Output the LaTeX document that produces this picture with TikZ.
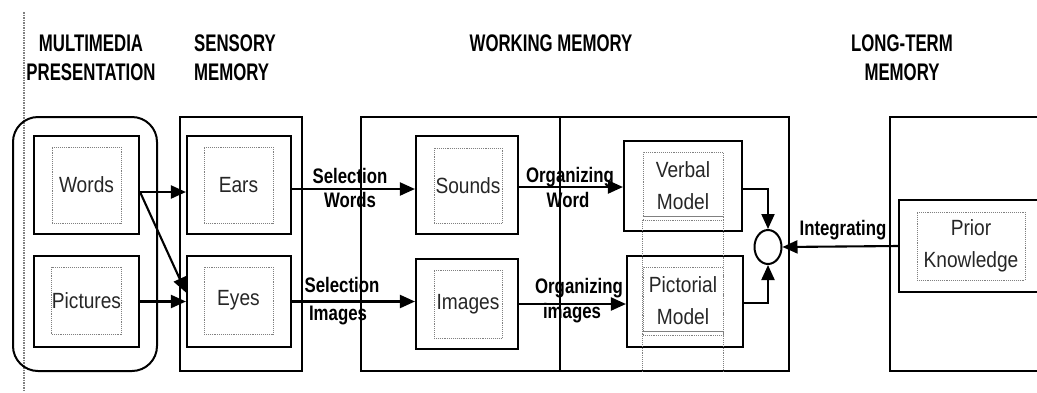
\documentclass[tikz,border=0pt]{standalone}
\usepackage{fontspec}
\setmainfont{Liberation Sans}
\newfontfamily\headfont{Liberation Sans}[FakeStretch=0.7]
\newfontfamily\selfont{Liberation Sans}[FakeStretch=0.8]
\newfontfamily\boxfont{Liberation Sans}[FakeStretch=0.87]
\usetikzlibrary{arrows.meta,shapes.geometric}

\begin{document}
\begin{tikzpicture}[x=1pt,y=-1pt,
	stage/.style={draw, line width=2pt, inner sep=0pt},
	box/.style={draw, line width=2.1pt, inner sep=0pt},
	inbox/.style={draw=gray, densely dotted, line width=0.9pt, inner sep=0pt, align=center, text=black!85, font=\boxfont\fontsize{22}{32}\selectfont},
	head/.style={font=\headfont\bfseries\fontsize{24}{29}\selectfont, align=center, inner sep=0pt},
	lbl/.style={font=\selfont\bfseries\fontsize{21}{24}\selectfont, inner sep=0pt},
	link/.style={line width=2.1pt, -{Triangle[length=15pt,width=13pt]}},
	dbl/.style={draw=gray, double, line width=0.7pt, double distance=1.6pt}]
	\useasboundingbox (0,0) rectangle (1037,392);
	\clip (0,0) rectangle (1037,392);

	\draw[gray, densely dotted, line width=1.5pt] (24,12) -- (24,392);

	\node[head] (mmhead) at (91,57.5) {MULTIMEDIA\\PRESENTATION};
	\node[head, align=left, anchor=west] (smhead) at (194,57.5) {SENSORY\\MEMORY};
	\node[head] (wmhead) at (551,43) {WORKING MEMORY};
	\node[head] (ltmhead) at (902,57.5) {LONG-TERM\\MEMORY};

	\node[stage, rounded corners=25pt, minimum width=144pt, minimum height=254pt] (mm) at (85,244) {};
	\node[stage, minimum width=122pt, minimum height=254pt] (sm) at (241,244) {};
	\node[stage, minimum width=428pt, minimum height=254pt] (wm) at (575,244) {};
	\node[stage, minimum width=180pt, minimum height=254pt] (ltm) at (980,244) {};
	\draw[line width=2pt] ([xshift=200pt]wm.north west) -- ([xshift=200pt]wm.south west);

	\node[box, minimum width=105pt, minimum height=98pt] (words) at (86.5,185) {};
	\node[inbox, minimum width=69pt, minimum height=76pt] (wordsin) at (86.5,185) {Words};
	\node[box, minimum width=105pt, minimum height=91pt] (pictures) at (86.5,301.5) {};
	\node[inbox, minimum width=69pt, minimum height=67pt] (picturesin) at (86.5,300.5) {Pictures};

	\node[box, minimum width=104pt, minimum height=98pt] (ears) at (239,185) {};
	\node[inbox, minimum width=69pt, minimum height=76pt] (earsin) at (238.5,185) {Ears};
	\node[box, minimum width=104pt, minimum height=91pt] (eyes) at (239,301.5) {};
	\node[inbox, minimum width=69pt, minimum height=67pt] (eyesin) at (238.5,300.5) {Eyes};

	\node[box, minimum width=102pt, minimum height=98pt] (sounds) at (467,185) {};
	\node[inbox, minimum width=68pt, minimum height=75pt] (soundsin) at (468,185.5) {Sounds};
	\node[box, minimum width=102pt, minimum height=90pt] (images) at (467,304) {};
	\node[inbox, minimum width=68pt, minimum height=68pt] (imagesin) at (468,304) {Images};

	\node[box, minimum width=118pt, minimum height=90pt] (verbal) at (683,186) {};
	\node[inbox, minimum width=80pt, minimum height=68pt] (verbalin) at (683,186) {Verbal\\Model};
	\node[box, minimum width=116pt, minimum height=91pt] (pictorial) at (685,301.5) {};
	\node[inbox, minimum width=80pt, minimum height=68pt] (pictorialin) at (683,301) {Pictorial\\Model};
	\draw[dbl] ([yshift=2.5pt]verbalin.south west) -- ([yshift=2.5pt]verbalin.south east);
	\draw[dbl] ([yshift=2.5pt]pictorialin.south west) -- ([yshift=2.5pt]pictorialin.south east);
	\draw[gray, densely dotted, line width=0.9pt] (verbalin.south west) -- (verbalin.south west |- wm.south);
	\draw[gray, densely dotted, line width=0.9pt] (verbalin.south east) -- (verbalin.south east |- wm.south);

	\node[box, minimum width=144pt, minimum height=92pt] (prior) at (971,246) {};
	\node[inbox, minimum width=108pt, minimum height=68pt] (priorin) at (971,246) {Prior\\Knowledge};
	\node[draw, ellipse, line width=2pt, minimum width=27pt, minimum height=34pt, inner sep=0pt] (merge) at (768,247) {};

	\draw[link] ([yshift=-7pt]words.east) -- ([yshift=-7pt]ears.west);
	\draw[link] ([yshift=-7pt]words.east) -- ([yshift=9pt]eyes.west);
	\draw[link] (pictures.east) -- (eyes.west);
	\draw[link] ([yshift=-4pt]ears.east) -- ([yshift=-4pt]sounds.west);
	\draw[link] (eyes.east) -- (eyes.east -| images.west);
	\draw[link] ([yshift=-2pt]sounds.east) -- ([yshift=-2pt]sounds.east -| verbal.west);
	\draw[link] (images.east) -- (images.east -| pictorial.west);
	\draw[link] ([yshift=-3pt]verbal.east) -| (merge.north);
	\draw[link] ([yshift=-1.5pt]pictorial.east) -| (merge.south);
	\draw[link] (prior.west) -- (merge.east);

	\node[lbl] (sel1) at (350,176) {Selection};
	\node[lbl] (selw) at (350,200) {Words};
	\node[lbl] (sel2) at (342,285) {Selection};
	\node[lbl] (seli) at (338,315) {Images};
	\node[lbl] (org1) at (570,177) {Organizing};
	\node[lbl] (orgw) at (568,200) {Word};
	\node[lbl] (org2) at (579,288) {Organizing};
	\node[lbl] (orgi) at (572,313) {images};
	\node[lbl] (integ) at (843,230) {Integrating};
\end{tikzpicture}
\end{document}
